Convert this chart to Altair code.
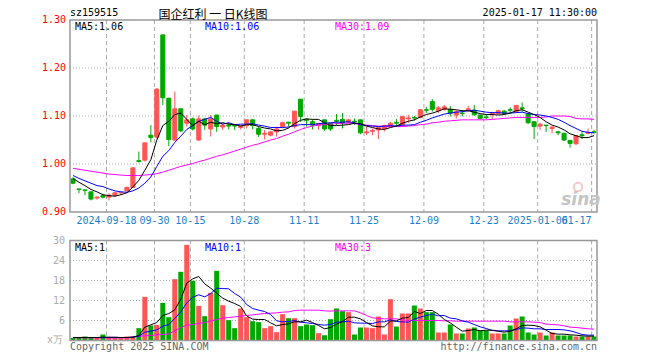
import altair as alt
import pandas as pd

# ---------------- data ----------------
opens = [0.969,0.948,0.946,0.942,0.929,0.934,0.931,0.935,0.940,0.944,
         0.951,1.007,1.008,1.060,1.056,1.269,1.137,1.050,1.115,1.085,
         1.094,1.050,1.094,1.073,1.102,1.077,1.081,1.081,1.076,1.080,
         1.092,1.074,1.062,1.060,1.067,1.078,1.087,1.078,1.135,1.093,
         1.088,1.081,1.092,1.085,1.091,1.093,1.087,1.089,1.092,1.065,
         1.068,1.071,1.074,1.078,1.087,1.081,1.094,1.097,1.097,1.113,
         1.130,1.111,1.114,1.114,1.102,1.106,1.113,1.112,1.102,1.098,
         1.104,1.105,1.110,1.113,1.109,1.117,1.105,1.088,1.079,1.081,
         1.074,1.067,1.064,1.049,1.042,1.061,1.064,1.067]
highs = [0.972,0.948,0.946,0.943,0.933,0.938,0.939,0.942,0.943,0.953,
         0.993,1.026,1.045,1.081,1.158,1.269,1.138,1.151,1.115,1.102,
         1.097,1.101,1.095,1.102,1.102,1.085,1.086,1.081,1.081,1.092,
         1.094,1.078,1.071,1.069,1.078,1.088,1.088,1.111,1.135,1.095,
         1.093,1.086,1.092,1.085,1.104,1.106,1.093,1.095,1.092,1.078,
         1.074,1.077,1.082,1.088,1.094,1.099,1.102,1.100,1.114,1.119,
         1.135,1.121,1.123,1.121,1.112,1.112,1.121,1.123,1.103,1.102,
         1.109,1.113,1.113,1.118,1.123,1.128,1.105,1.088,1.086,1.081,
         1.078,1.069,1.064,1.050,1.060,1.067,1.074,1.071]
lows = [0.958,0.939,0.935,0.924,0.926,0.928,0.924,0.931,0.936,0.943,
        0.950,1.003,1.005,1.045,1.053,1.123,1.037,1.048,1.066,1.078,
        1.070,1.048,1.071,1.057,1.067,1.071,1.072,1.071,1.072,1.074,
        1.072,1.056,1.051,1.058,1.057,1.074,1.078,1.074,1.088,1.078,
        1.072,1.071,1.069,1.069,1.081,1.074,1.085,1.081,1.062,1.060,
        1.060,1.052,1.068,1.076,1.078,1.078,1.086,1.090,1.095,1.106,
        1.109,1.106,1.111,1.099,1.095,1.099,1.109,1.100,1.093,1.093,
        1.093,1.103,1.102,1.105,1.108,1.109,1.083,1.052,1.071,1.067,
        1.064,1.060,1.048,1.034,1.040,1.052,1.062,1.063]
closes = [0.960,0.947,0.945,0.927,0.931,0.931,0.935,0.940,0.941,0.951,
          0.992,1.005,1.044,1.055,1.156,1.138,1.051,1.115,1.069,1.092,
          1.073,1.094,1.081,1.094,1.078,1.081,1.079,1.079,1.079,1.092,
          1.080,1.062,1.064,1.067,1.073,1.086,1.085,1.110,1.099,1.091,
          1.081,1.084,1.073,1.073,1.089,1.085,1.092,1.088,1.065,1.067,
          1.070,1.076,1.080,1.085,1.085,1.099,1.096,1.096,1.113,1.112,
          1.114,1.117,1.119,1.106,1.109,1.105,1.115,1.103,1.095,1.097,
          1.106,1.111,1.105,1.112,1.122,1.115,1.086,1.078,1.083,1.080,
          1.077,1.065,1.050,1.043,1.059,1.059,1.066,1.066]
ma5 = [0.970,0.962,0.955,0.947,0.942,0.936,0.934,0.933,0.936,0.940,
       0.952,0.966,0.987,1.009,1.050,1.080,1.089,1.103,1.106,1.093,
       1.080,1.089,1.082,1.087,1.084,1.086,1.083,1.082,1.079,1.082,
       1.082,1.078,1.075,1.073,1.069,1.070,1.075,1.084,1.091,1.094,
       1.093,1.093,1.086,1.080,1.080,1.081,1.082,1.085,1.084,1.079,
       1.076,1.073,1.072,1.076,1.079,1.085,1.089,1.092,1.098,1.103,
       1.106,1.110,1.115,1.114,1.113,1.111,1.111,1.108,1.105,1.103,
       1.103,1.102,1.103,1.106,1.111,1.113,1.108,1.103,1.097,1.088,
       1.081,1.077,1.071,1.063,1.059,1.055,1.055,1.059]
ma10 = [0.976,0.970,0.965,0.960,0.955,0.953,0.948,0.944,0.942,0.941,
        0.944,0.950,0.960,0.973,0.995,1.016,1.028,1.045,1.058,1.072,
        1.080,1.089,1.093,1.097,1.089,1.083,1.086,1.082,1.083,1.083,
        1.084,1.081,1.079,1.076,1.076,1.076,1.077,1.080,1.082,1.082,
        1.082,1.084,1.085,1.086,1.087,1.087,1.088,1.086,1.082,1.080,
        1.079,1.078,1.079,1.080,1.079,1.081,1.081,1.082,1.087,1.091,
        1.096,1.100,1.104,1.106,1.108,1.109,1.111,1.112,1.110,1.108,
        1.107,1.107,1.106,1.106,1.107,1.108,1.105,1.103,1.102,1.100,
        1.097,1.093,1.087,1.080,1.074,1.068,1.066,1.065]
ma30 = [0.991,0.989,0.987,0.985,0.983,0.981,0.979,0.978,0.977,0.976,
        0.976,0.976,0.977,0.978,0.980,0.983,0.987,0.991,0.995,0.998,
        1.001,1.005,1.008,1.012,1.016,1.019,1.023,1.027,1.031,1.035,
        1.039,1.042,1.046,1.050,1.053,1.058,1.062,1.067,1.072,1.076,
        1.079,1.081,1.082,1.083,1.084,1.085,1.085,1.084,1.083,1.081,
        1.080,1.079,1.078,1.078,1.078,1.078,1.079,1.080,1.082,1.083,
        1.086,1.087,1.089,1.090,1.091,1.092,1.092,1.092,1.092,1.092,
        1.093,1.094,1.095,1.096,1.097,1.097,1.097,1.097,1.097,1.098,
        1.100,1.100,1.100,1.099,1.095,1.094,1.094,1.093]
volume = [0.8,0.8,1.2,0.8,0.8,1.8,0.8,0.8,0.8,1.2,
          1.2,3.7,13.1,4.5,4.7,11.3,7.0,18.4,20.6,28.7,
          17.9,10.4,7.3,14.3,20.9,10.6,6.1,3.7,9.6,7.0,
          5.8,5.5,3.7,4.3,2.5,7.9,6.7,6.7,4.3,4.8,
          4.6,2.2,1.6,6.4,9.6,8.8,8.5,1.8,3.9,3.9,
          3.7,7.2,1.8,12.4,4.2,8.1,8.1,10.5,9.6,8.5,
          8.5,2.4,2.4,4.8,2.1,2.1,3.6,3.9,3.0,3.0,
          2.1,2.1,2.1,4.5,6.6,7.2,2.4,1.8,2.4,1.5,
          2.4,1.5,1.5,1.5,1.2,1.2,1.2,1.2]
vma5 = [0.9,0.9,0.9,0.9,0.9,1.0,1.0,1.0,0.9,0.9,
        1.0,1.5,4.0,4.7,5.4,7.5,8.1,9.2,12.4,17.2,
        18.5,19.2,17.0,15.7,14.2,12.7,11.8,11.1,10.2,7.4,
        6.4,6.3,6.3,5.3,4.4,4.8,5.0,5.6,5.6,6.1,
        5.4,4.5,3.5,3.9,4.9,5.7,7.0,7.0,6.5,5.4,
        4.4,4.1,4.1,5.8,5.9,6.7,6.9,8.7,8.1,9.0,
        9.0,7.9,6.3,5.3,4.0,2.8,3.0,3.3,2.9,3.1,
        3.1,2.8,2.5,2.8,3.5,4.5,4.6,4.5,4.1,3.1,
        2.1,1.9,1.9,1.7,1.6,1.4,1.3,1.3]
vma10 = [0.9,0.9,0.9,0.9,0.9,0.9,0.9,0.9,0.9,0.9,
         1.0,1.3,2.5,2.8,3.2,4.3,4.8,6.6,8.6,11.3,
         13.0,13.7,13.1,14.1,15.7,15.6,15.5,14.1,13.0,10.8,
         9.6,9.1,8.7,7.8,5.9,5.6,5.7,6.0,5.5,5.3,
         5.1,4.8,4.6,4.8,5.5,5.6,5.8,5.3,5.2,5.2,
         5.1,5.6,5.6,6.2,5.7,5.6,5.5,6.4,7.0,7.5,
         7.9,7.4,7.5,6.7,6.5,5.9,5.5,4.8,4.1,3.6,
         3.0,2.9,2.9,2.9,3.3,3.8,3.7,3.5,3.5,3.3,
         3.3,3.3,3.2,2.9,2.4,1.8,1.6,1.6]
vma30 = [0.8,0.8,0.8,0.8,0.8,0.8,0.8,0.8,0.8,0.8,
         1.0,1.3,1.4,1.5,1.7,1.8,2.0,2.9,3.9,4.6,
         4.8,5.1,5.4,5.8,6.3,6.7,6.9,7.1,7.3,7.5,
         7.7,7.9,8.1,8.2,8.3,8.5,8.6,9.0,9.1,9.1,
         9.1,9.1,8.9,8.8,8.9,8.9,8.9,8.9,8.3,7.5,
         6.8,6.6,6.5,6.5,6.5,6.2,6.0,6.0,6.0,6.0,
         6.0,6.0,5.9,5.9,5.8,5.8,5.8,5.8,5.8,5.8,
         5.8,5.8,5.8,5.6,5.6,5.6,5.6,5.5,5.4,4.9,
         4.8,4.7,4.4,4.0,3.9,3.7,3.5,3.4]

tick_index = [6, 14, 20, 29, 39, 49, 59, 69, 78, 87]
tick_labels = ["2024-09-18", "09-30", "10-15", "10-28", "11-11", "11-25",
               "12-09", "12-23", "2025-01-06", "01-17"]
price_ticks = [0.90, 1.00, 1.10, 1.20, 1.30]
price_grid = [1.00, 1.10, 1.20]
vol_ticks = [6, 12, 18, 24, 30]
vol_grid = [6, 12, 18, 24]

# ---------------- styling ----------------
RED = "#ff5555"
GREEN = "#00a800"
MONO = "DejaVu Sans Mono"
W = 527
H_MAIN = 192
VOL_TOP = 220.5
VOL_BOT = 320.5

df = pd.DataFrame({
    "i": list(range(len(closes))), "open": opens, "high": highs, "low": lows,
    "close": closes, "ma5": ma5, "ma10": ma10, "ma30": ma30,
    "vol": volume, "vma5": vma5, "vma10": vma10, "vma30": vma30,
})
ticks_df = pd.DataFrame({"idx": tick_index, "label": tick_labels})
one = pd.DataFrame({"a": [0]})

xs = alt.Scale(domain=[-0.5, 87.5], range=[0, W], nice=False, zero=False)
py = alt.Scale(domain=[0.9, 1.3], range=[H_MAIN, 0], nice=False, zero=False)
vy = alt.Scale(domain=[0, 30], range=[VOL_BOT, VOL_TOP], nice=False, zero=False)
cs = alt.Scale(domain=["up", "down"], range=[RED, GREEN])

base = alt.Chart(df).transform_calculate(
    dir="datum.close >= datum.open ? 'up' : 'down'",
    xl="datum.i - 0.34", xr="datum.i + 0.34",
    vl="datum.i - 0.42", vr="datum.i + 0.42",
)

layers = []

# horizontal dotted grids
layers.append(alt.Chart(pd.DataFrame({"p": price_grid})).mark_rule(
    color="#aaaaaa", strokeDash=[1, 2], strokeWidth=1).encode(
    x=alt.value(0), x2=alt.value(W), y=alt.Y("p:Q", scale=py, axis=None)))
layers.append(alt.Chart(pd.DataFrame({"v": vol_grid})).mark_rule(
    color="#aaaaaa", strokeDash=[1, 2], strokeWidth=1).encode(
    x=alt.value(0), x2=alt.value(W), y=alt.Y("v:Q", scale=vy, axis=None)))

# vertical dashed grids
vgrid = alt.Chart(ticks_df).transform_calculate(pos="datum.idx - 0.4")
layers.append(vgrid.mark_rule(color="#aaaaaa", strokeDash=[4, 3], strokeWidth=1).encode(
    x=alt.X("pos:Q", scale=xs, axis=None), y=alt.value(0), y2=alt.value(H_MAIN)))
layers.append(vgrid.mark_rule(color="#aaaaaa", strokeDash=[4, 3], strokeWidth=1).encode(
    x=alt.X("pos:Q", scale=xs, axis=None), y=alt.value(VOL_TOP), y2=alt.value(VOL_BOT)))

# watermark logo (faint)
layers.append(alt.Chart(one).mark_point(
    shape="circle", size=70, filled=False, color="#f2b0b0", strokeWidth=2, opacity=0.7).encode(
    x=alt.value(508), y=alt.value(167)))

# candle wicks and bodies
layers.append(base.mark_rule(strokeWidth=1).encode(
    x=alt.X("i:Q", scale=xs, axis=None),
    y=alt.Y("low:Q", scale=py, axis=None), y2="high:Q",
    color=alt.Color("dir:N", scale=cs, legend=None)))
layers.append(base.mark_rect(strokeWidth=1).encode(
    x=alt.X("xl:Q", scale=xs, axis=None), x2="xr:Q",
    y=alt.Y("open:Q", scale=py, axis=None), y2="close:Q",
    fill=alt.Fill("dir:N", scale=cs, legend=None),
    stroke=alt.Stroke("dir:N", scale=cs, legend=None)))

# price moving averages
for col, c in [("ma30", "#ff00ff"), ("ma10", "#0000ff"), ("ma5", "#000000")]:
    layers.append(base.mark_line(color=c, strokeWidth=1).encode(
        x=alt.X("i:Q", scale=xs, axis=None),
        y=alt.Y(f"{col}:Q", scale=py, axis=None)))

# volume bars
layers.append(base.mark_rect().encode(
    x=alt.X("vl:Q", scale=xs, axis=None), x2="vr:Q",
    y=alt.Y("vol:Q", scale=vy, axis=None), y2=alt.datum(0),
    fill=alt.Fill("dir:N", scale=cs, legend=None)))
for col, c in [("vma30", "#ff00ff"), ("vma10", "#0000ff"), ("vma5", "#000000")]:
    layers.append(base.mark_line(color=c, strokeWidth=1).encode(
        x=alt.X("i:Q", scale=xs, axis=None),
        y=alt.Y(f"{col}:Q", scale=vy, axis=None)))

# panel borders
for y0, y1 in [(0, H_MAIN), (VOL_TOP, VOL_BOT)]:
    layers.append(alt.Chart(one).mark_rect(fill=None, stroke="#999999", strokeWidth=1.5).encode(
        x=alt.value(0), x2=alt.value(W), y=alt.value(y0), y2=alt.value(y1)))

# axis labels
layers.append(alt.Chart(pd.DataFrame({"p": price_ticks})).mark_text(
    align="right", baseline="middle", font=MONO, fontSize=10, color="#ff0000").encode(
    x=alt.value(-4), y=alt.Y("p:Q", scale=py, axis=None),
    text=alt.Text("p:Q", format=".2f")))
layers.append(alt.Chart(pd.DataFrame({"v": vol_ticks})).mark_text(
    align="right", baseline="middle", font=MONO, fontSize=10, color="#aaaaaa").encode(
    x=alt.value(-5), y=alt.Y("v:Q", scale=vy, axis=None), text="v:Q"))

dl = alt.Chart(ticks_df).transform_calculate(pos="datum.idx - 0.4")
layers.append(dl.transform_filter(f"datum.idx < {tick_index[-1]}").mark_text(
    align="center", baseline="middle", font=MONO, fontSize=10, color="#1a7fd0").encode(
    x=alt.X("pos:Q", scale=xs, axis=None), y=alt.value(H_MAIN + 9), text="label:N"))
layers.append(dl.transform_filter(f"datum.idx == {tick_index[-1]}").mark_text(
    align="right", baseline="middle", font=MONO, fontSize=10, color="#1a7fd0").encode(
    x=alt.X("pos:Q", scale=xs, axis=None), y=alt.value(H_MAIN + 9), text="label:N"))


def label(txt, x, y, color="#000000", size=10, align="left", font=MONO,
          baseline="middle", **kw):
    return alt.Chart(one).mark_text(text=txt, align=align, baseline=baseline,
                                    font=font, fontSize=size, color=color, **kw).encode(
        x=alt.value(x), y=alt.value(y))


layers += [
    label("sz159515", 0, -7),
    label("国企红利 一 日K线图", 143, -1, size=12, align="center",
          font="Noto Sans CJK SC", baseline="alphabetic"),
    label("2025-01-17 11:30:00", W, -7, align="right"),
    label("MA5:1.06", 5, 7),
    label("MA10:1.06", 135, 7, color="#0000ff"),
    label("MA30:1.09", 265, 7, color="#ff00ff"),
    label("MA5:1", 5, VOL_TOP + 7),
    label("MA10:1", 135, VOL_TOP + 7, color="#0000ff"),
    label("MA30:3", 265, VOL_TOP + 7, color="#ff00ff"),
    label("x万", -7, VOL_BOT - 1, color="#aaaaaa", align="right"),
    label("Copyright 2025 SINA.COM", 0, VOL_BOT + 6, color="#666666"),
    label("http://finance.sina.com.cn", W, VOL_BOT + 6, color="#666666", align="right"),
    label("sina", 511, 180, color="#c4c4c4", size=17, align="center",
          font="DejaVu Sans", fontStyle="italic", fontWeight="bold"),
]

chart = alt.layer(*layers).resolve_scale(y="independent").properties(
    width=W, height=int(VOL_BOT),
    padding={"left": 62, "top": 12, "right": 55, "bottom": 12},
    autosize=alt.AutoSizeParams(type="none"),
    background="white",
).configure_view(stroke=None)

chart.save("out.html", embed_options={"renderer": "svg", "actions": False})
